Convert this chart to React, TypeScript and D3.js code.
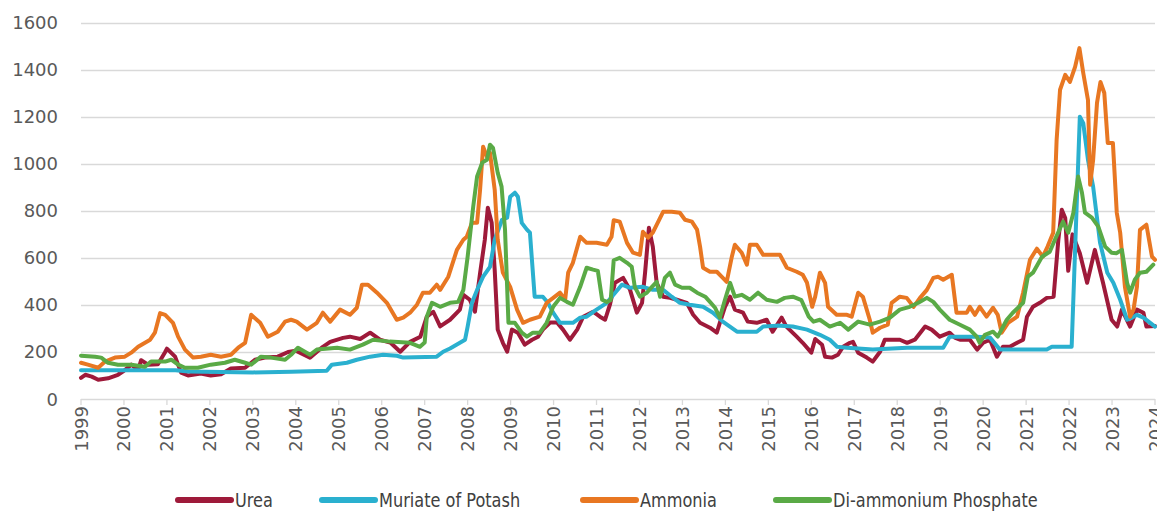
import { useEffect, useRef } from 'react'
import * as d3 from 'd3'

type Point = [number, number]

const WIDTH = 1157
const HEIGHT = 514

const yTicks = [0, 200, 400, 600, 800, 1000, 1200, 1400, 1600]
const yearTicks = d3.range(1999, 2025)

const seriesNames = ['Urea', 'Muriate of Potash', 'Ammonia', 'Di-ammonium Phosphate']
const seriesColors = ['#9e1a3a', '#2ab0cf', '#e87722', '#5aaa46']

// values are USD/tonne (decimal year, value)
const ureaData: Point[] = [
  [1999.0, 90], [1999.1, 103], [1999.25, 95], [1999.4, 82], [1999.63, 88], [1999.86, 103],
  [2000.0, 120], [2000.17, 146], [2000.33, 124], [2000.4, 165], [2000.56, 146], [2000.79, 148],
  [2000.96, 200], [2001.0, 214], [2001.19, 180], [2001.33, 112], [2001.49, 100], [2001.79, 108],
  [2002.02, 100], [2002.26, 105], [2002.49, 130], [2002.82, 133], [2003.05, 167], [2003.28, 176],
  [2003.58, 180], [2003.82, 200], [2004.0, 205], [2004.33, 176], [2004.63, 222], [2004.8, 243],
  [2005.1, 260], [2005.26, 265], [2005.5, 255], [2005.73, 282], [2005.96, 252], [2006.2, 240],
  [2006.43, 201], [2006.66, 243], [2006.9, 265], [2007.05, 350], [2007.2, 371], [2007.36, 309],
  [2007.59, 337], [2007.82, 380], [2007.9, 443], [2008.05, 422], [2008.17, 371], [2008.29, 536],
  [2008.4, 677], [2008.47, 813], [2008.56, 749], [2008.63, 549], [2008.7, 295], [2008.82, 239],
  [2008.92, 201], [2009.03, 295], [2009.17, 282], [2009.33, 231], [2009.5, 252], [2009.64, 265],
  [2009.75, 295], [2009.92, 325], [2010.08, 325], [2010.22, 295], [2010.38, 252], [2010.55, 295],
  [2010.69, 350], [2010.92, 371], [2011.08, 350], [2011.2, 337], [2011.31, 400], [2011.43, 494],
  [2011.62, 515], [2011.78, 464], [2011.94, 367], [2012.06, 409], [2012.13, 537], [2012.22, 728],
  [2012.31, 648], [2012.4, 494], [2012.55, 435], [2012.71, 430], [2012.87, 422], [2013.1, 409],
  [2013.25, 358], [2013.41, 324], [2013.64, 303], [2013.8, 282], [2013.87, 324], [2013.99, 392],
  [2014.11, 435], [2014.22, 380], [2014.41, 367], [2014.52, 329], [2014.73, 324], [2014.96, 337],
  [2015.1, 286], [2015.31, 346], [2015.42, 308], [2015.66, 265], [2015.8, 239], [2016.0, 197],
  [2016.09, 255], [2016.25, 231], [2016.32, 180], [2016.48, 176], [2016.62, 188], [2016.74, 222],
  [2016.9, 239], [2016.97, 243], [2017.09, 197], [2017.29, 176], [2017.43, 159], [2017.6, 201],
  [2017.71, 252], [2017.9, 252], [2018.06, 252], [2018.23, 239], [2018.41, 252], [2018.65, 308],
  [2018.8, 295], [2018.99, 265], [2019.22, 282], [2019.34, 261], [2019.46, 252], [2019.69, 252],
  [2019.86, 210], [2020.0, 239], [2020.16, 252], [2020.32, 180], [2020.46, 222], [2020.62, 222],
  [2020.79, 239], [2020.93, 252], [2021.02, 350], [2021.16, 392], [2021.32, 409], [2021.48, 430],
  [2021.64, 435], [2021.75, 677], [2021.83, 805], [2021.91, 770], [2021.98, 545], [2022.08, 700],
  [2022.25, 620], [2022.42, 494], [2022.6, 634], [2022.79, 494], [2022.99, 337], [2023.12, 308],
  [2023.23, 380], [2023.42, 308], [2023.58, 380], [2023.73, 367], [2023.8, 308], [2024.0, 310],
]

const potashData: Point[] = [
  [1999.0, 122], [2001.2, 122], [2001.5, 117], [2003.0, 113], [2003.9, 116], [2004.72, 120],
  [2004.84, 146], [2005.19, 154], [2005.42, 167], [2005.73, 180], [2006.03, 188], [2006.35, 184],
  [2006.5, 176], [2007.28, 180], [2007.43, 201], [2007.59, 215], [2007.82, 239], [2007.94, 252],
  [2008.0, 308], [2008.1, 409], [2008.22, 464], [2008.36, 520], [2008.52, 562], [2008.63, 677],
  [2008.8, 762], [2008.92, 771], [2008.99, 860], [2009.1, 877], [2009.17, 860], [2009.26, 749],
  [2009.38, 720], [2009.45, 707], [2009.56, 435], [2009.75, 435], [2009.87, 409], [2009.99, 367],
  [2010.15, 324], [2010.45, 324], [2010.62, 346], [2010.77, 350], [2011.0, 380], [2011.24, 409],
  [2011.38, 440], [2011.59, 486], [2011.78, 473], [2012.08, 477], [2012.31, 464], [2012.55, 464],
  [2012.75, 435], [2012.94, 409], [2013.17, 401], [2013.48, 392], [2013.71, 367], [2013.94, 329],
  [2014.27, 286], [2014.73, 286], [2014.88, 308], [2015.2, 312], [2015.57, 308], [2015.9, 295],
  [2016.2, 273], [2016.43, 252], [2016.6, 222], [2016.83, 218], [2017.43, 210], [2018.23, 218],
  [2019.07, 218], [2019.22, 265], [2019.85, 265], [2020.16, 261], [2020.39, 210], [2021.48, 210],
  [2021.6, 222], [2022.06, 222], [2022.25, 1200], [2022.33, 1173], [2022.44, 1017], [2022.56, 903],
  [2022.72, 665], [2022.89, 537], [2023.03, 494], [2023.19, 422], [2023.35, 337], [2023.47, 346],
  [2023.58, 358], [2023.73, 346], [2024.0, 308],
]

const ammoniaData: Point[] = [
  [1999.0, 154], [1999.16, 146], [1999.4, 133], [1999.56, 159], [1999.79, 176], [2000.02, 180],
  [2000.17, 197], [2000.33, 222], [2000.49, 239], [2000.61, 252], [2000.72, 282], [2000.84, 365],
  [2000.96, 358], [2001.14, 324], [2001.26, 265], [2001.42, 210], [2001.61, 176], [2001.79, 180],
  [2002.02, 188], [2002.26, 180], [2002.49, 188], [2002.66, 218], [2002.82, 239], [2002.96, 358],
  [2003.17, 324], [2003.35, 265], [2003.58, 286], [2003.75, 329], [2003.89, 337], [2004.02, 329],
  [2004.26, 295], [2004.49, 324], [2004.63, 367], [2004.8, 329], [2005.03, 380], [2005.26, 358],
  [2005.42, 388], [2005.54, 486], [2005.68, 486], [2005.89, 452], [2006.12, 409], [2006.35, 337],
  [2006.5, 346], [2006.66, 367], [2006.82, 401], [2006.96, 452], [2007.12, 452], [2007.28, 486],
  [2007.36, 464], [2007.55, 520], [2007.75, 634], [2007.9, 677], [2007.98, 690], [2008.1, 749],
  [2008.22, 749], [2008.29, 890], [2008.36, 1073], [2008.45, 1030], [2008.52, 1047], [2008.63, 890],
  [2008.7, 677], [2008.82, 537], [2008.99, 477], [2009.15, 380], [2009.29, 324], [2009.45, 337],
  [2009.68, 350], [2009.84, 409], [2010.03, 435], [2010.15, 452], [2010.27, 422], [2010.34, 537],
  [2010.45, 579], [2010.62, 690], [2010.77, 664], [2011.0, 664], [2011.24, 656], [2011.35, 690],
  [2011.4, 760], [2011.54, 754], [2011.71, 664], [2011.85, 622], [2012.01, 613], [2012.08, 711],
  [2012.2, 686], [2012.31, 707], [2012.55, 796], [2012.75, 796], [2012.94, 792], [2013.06, 762],
  [2013.22, 754], [2013.34, 720], [2013.41, 648], [2013.48, 558], [2013.64, 541], [2013.8, 541],
  [2013.94, 515], [2014.03, 498], [2014.15, 605], [2014.22, 656], [2014.38, 622], [2014.5, 571],
  [2014.57, 656], [2014.73, 656], [2014.88, 613], [2015.1, 613], [2015.27, 613], [2015.43, 558],
  [2015.66, 541], [2015.8, 528], [2015.9, 494], [2016.02, 392], [2016.09, 435], [2016.2, 537],
  [2016.32, 494], [2016.39, 392], [2016.59, 358], [2016.83, 358], [2016.94, 350], [2017.09, 452],
  [2017.2, 435], [2017.36, 337], [2017.43, 282], [2017.6, 303], [2017.78, 316], [2017.87, 409],
  [2018.06, 435], [2018.22, 430], [2018.38, 392], [2018.53, 430], [2018.69, 464], [2018.84, 515],
  [2018.95, 520], [2019.07, 507], [2019.27, 528], [2019.38, 367], [2019.62, 367], [2019.69, 392],
  [2019.81, 358], [2019.92, 392], [2020.08, 350], [2020.23, 388], [2020.34, 358], [2020.43, 282],
  [2020.58, 324], [2020.79, 350], [2020.93, 452], [2021.09, 592], [2021.25, 639], [2021.39, 605],
  [2021.5, 648], [2021.63, 707], [2021.71, 1102], [2021.79, 1315], [2021.91, 1378], [2022.02, 1348],
  [2022.14, 1412], [2022.24, 1492], [2022.33, 1386], [2022.44, 1271], [2022.49, 911], [2022.56, 1017],
  [2022.65, 1259], [2022.73, 1348], [2022.82, 1301], [2022.9, 1089], [2023.02, 1089], [2023.11, 792],
  [2023.19, 707], [2023.3, 477], [2023.42, 350], [2023.5, 380], [2023.58, 477], [2023.65, 719],
  [2023.8, 741], [2023.93, 605], [2024.0, 592],
]

const dapData: Point[] = [
  [1999.0, 184], [1999.33, 180], [1999.47, 176], [1999.63, 154], [1999.86, 146], [2000.17, 146],
  [2000.49, 137], [2000.63, 159], [2000.96, 159], [2001.1, 167], [2001.26, 146], [2001.42, 133],
  [2001.72, 133], [2002.02, 146], [2002.35, 154], [2002.58, 167], [2002.82, 154], [2002.96, 146],
  [2003.19, 180], [2003.42, 176], [2003.75, 167], [2003.89, 188], [2004.05, 218], [2004.33, 188],
  [2004.49, 210], [2004.96, 218], [2005.26, 210], [2005.56, 231], [2005.8, 252], [2006.19, 244],
  [2006.66, 239], [2006.89, 222], [2007.0, 240], [2007.05, 350], [2007.17, 409], [2007.36, 392],
  [2007.59, 409], [2007.78, 413], [2007.9, 464], [2008.0, 605], [2008.13, 818], [2008.22, 946],
  [2008.34, 1005], [2008.45, 1017], [2008.52, 1081], [2008.59, 1068], [2008.7, 962], [2008.79, 903],
  [2008.87, 720], [2008.95, 324], [2009.1, 324], [2009.26, 282], [2009.38, 265], [2009.52, 282],
  [2009.68, 282], [2009.84, 324], [2009.99, 392], [2010.15, 430], [2010.31, 413], [2010.45, 401],
  [2010.62, 477], [2010.77, 558], [2010.92, 550], [2011.03, 545], [2011.13, 422], [2011.24, 413],
  [2011.33, 420], [2011.4, 590], [2011.54, 600], [2011.71, 579], [2011.82, 562], [2011.89, 477],
  [2012.01, 435], [2012.17, 452], [2012.29, 477], [2012.4, 498], [2012.48, 435], [2012.59, 515],
  [2012.71, 537], [2012.83, 486], [2012.99, 473], [2013.17, 473], [2013.34, 452], [2013.53, 435],
  [2013.64, 413], [2013.76, 388], [2013.87, 346], [2013.99, 422], [2014.11, 494], [2014.22, 435],
  [2014.38, 443], [2014.57, 422], [2014.76, 452], [2014.96, 422], [2015.2, 413], [2015.38, 430],
  [2015.57, 435], [2015.77, 420], [2015.94, 350], [2016.05, 329], [2016.2, 337], [2016.43, 308],
  [2016.67, 324], [2016.86, 295], [2017.09, 329], [2017.36, 316], [2017.6, 329], [2017.83, 346],
  [2018.06, 380], [2018.29, 392], [2018.49, 409], [2018.69, 430], [2018.84, 413], [2018.99, 380],
  [2019.22, 337], [2019.46, 316], [2019.69, 295], [2019.85, 265], [2019.92, 239], [2020.04, 273],
  [2020.23, 286], [2020.34, 265], [2020.55, 337], [2020.69, 367], [2020.93, 409], [2021.04, 520],
  [2021.16, 537], [2021.37, 605], [2021.55, 626], [2021.67, 677], [2021.86, 754], [2021.98, 707],
  [2022.1, 792], [2022.21, 946], [2022.3, 877], [2022.37, 792], [2022.53, 771], [2022.68, 733],
  [2022.84, 648], [2022.99, 622], [2023.1, 620], [2023.23, 634], [2023.35, 494], [2023.42, 452],
  [2023.53, 507], [2023.65, 537], [2023.8, 541], [2023.96, 571],
]

const allSeries = [ureaData, potashData, ammoniaData, dapData]

const TICK_FONT = "'DejaVu Sans', sans-serif"
const LEGEND_FONT = "'DejaVu Sans', sans-serif"

export default function App() {
  const svgRef = useRef<SVGSVGElement | null>(null)

  useEffect(() => {
    document.body.style.margin = '0'
    if (!svgRef.current) {
      return
    }

    const svg = d3.select(svgRef.current)
    svg.selectAll('*').remove()

    const x = d3.scaleLinear().domain([1999, 2024]).range([81, 1155])
    const y = d3.scaleLinear().domain([0, 1600]).range([399, 22.7])

    // gridlines
    svg
      .append('g')
      .selectAll('line')
      .data(yTicks)
      .enter()
      .append('line')
      .attr('x1', 81)
      .attr('x2', 1155)
      .attr('y1', (d: number) => Math.round(y(d)) + 0.5)
      .attr('y2', (d: number) => Math.round(y(d)) + 0.5)
      .attr('stroke', '#d9d9d9')
      .attr('stroke-width', 1.3)

    svg
      .append('g')
      .selectAll('text')
      .data(yTicks)
      .enter()
      .append('text')
      .attr('x', 58)
      .attr('y', (d: number) => y(d) + 6.5)
      .attr('text-anchor', 'end')
      .attr('font-family', TICK_FONT)
      .attr('font-size', 18)
      .attr('fill', '#595959')
      .text((d: number) => String(d))

    // x ticks below the baseline
    svg
      .append('g')
      .selectAll('line')
      .data(yearTicks)
      .enter()
      .append('line')
      .attr('x1', (d: number) => x(d))
      .attr('x2', (d: number) => x(d))
      .attr('y1', y(0))
      .attr('y2', y(0) + 6)
      .attr('stroke', '#d9d9d9')
      .attr('stroke-width', 1.3)

    svg
      .append('g')
      .selectAll('text')
      .data(yearTicks)
      .enter()
      .append('text')
      .attr('transform', (d: number) => `translate(${x(d) + 6.5}, 406) rotate(-90)`)
      .attr('text-anchor', 'end')
      .attr('font-family', TICK_FONT)
      .attr('font-size', 18)
      .attr('fill', '#595959')
      .text((d: number) => String(d))

    const line = d3
      .line<Point>()
      .x((d) => x(d[0]))
      .y((d) => y(d[1]))

    svg
      .append('g')
      .selectAll('path')
      .data(allSeries)
      .enter()
      .append('path')
      .attr('d', (d: Point[]) => line(d))
      .attr('fill', 'none')
      .attr('stroke', (_: Point[], i: number) => seriesColors[i])
      .attr('stroke-width', 4)
      .attr('stroke-linejoin', 'round')
      .attr('stroke-linecap', 'round')

    // legend: condensed look via a horizontal squeeze of the text
    const legendX = [176, 320, 581, 774]
    const legend = svg
      .append('g')
      .selectAll('g')
      .data(seriesNames)
      .enter()
      .append('g')
      .attr('transform', (_: string, i: number) => `translate(${legendX[i]}, 500)`)

    legend
      .append('line')
      .attr('x1', 2)
      .attr('x2', 55)
      .attr('y1', 0)
      .attr('y2', 0)
      .attr('stroke', (_: string, i: number) => seriesColors[i])
      .attr('stroke-width', 6)
      .attr('stroke-linecap', 'round')

    legend
      .append('text')
      .attr('transform', 'translate(59, 7) scale(0.85, 1)')
      .attr('font-family', LEGEND_FONT)
      .attr('font-size', 19)
      .attr('fill', '#404040')
      .text((d: string) => d)
  }, [])

  return (
    <svg
      ref={svgRef}
      width={WIDTH}
      height={HEIGHT}
      style={{ display: 'block' }}
      role="img"
      aria-label="Fertilizer prices 1999-2024"
    />
  )
}
